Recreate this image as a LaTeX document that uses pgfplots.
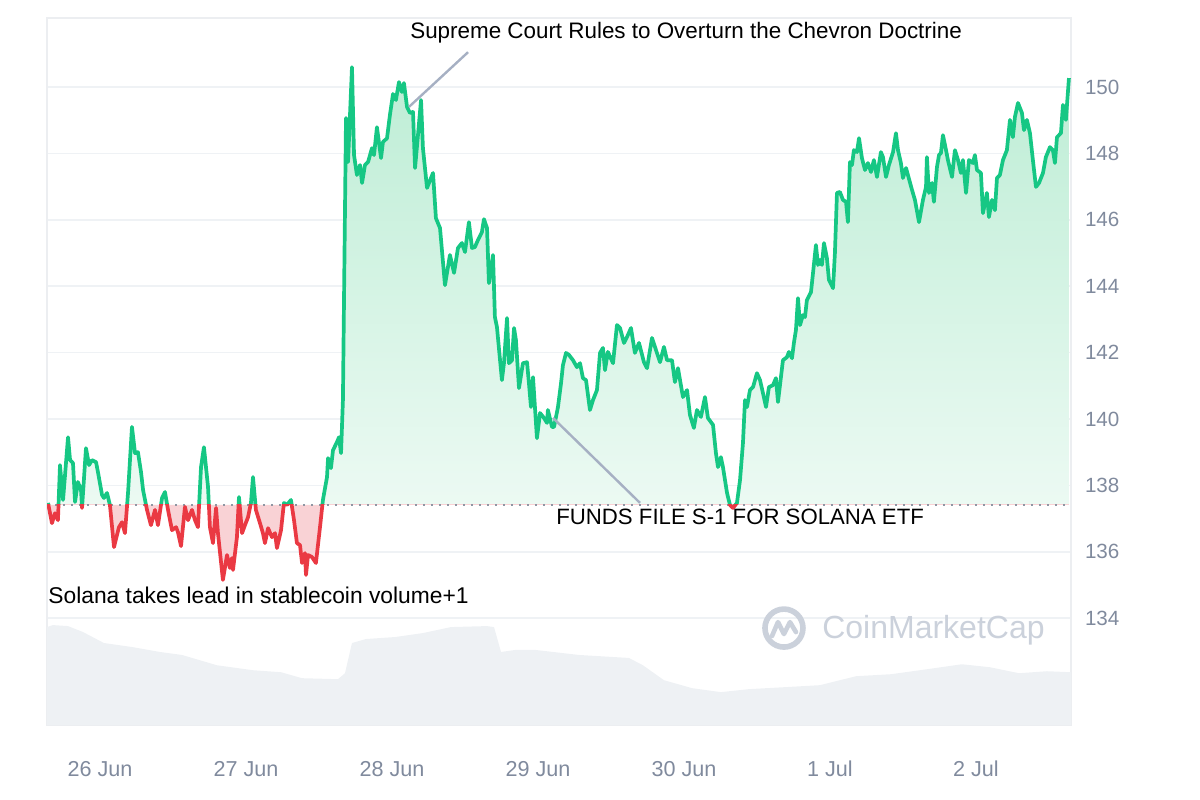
\documentclass[border=0pt]{standalone}
\usepackage{fontspec}
\setmainfont{Liberation Sans}
\usepackage{pgfplots}
\pgfplotsset{compat=1.18}
\usepackage{pgfplotstable}

\definecolor{cmcgreen}{HTML}{16C784}
\definecolor{cmcred}{HTML}{EA3943}
\definecolor{gridc}{HTML}{EFF2F5}
\definecolor{framec}{HTML}{ECEEF1}
\definecolor{tickc}{HTML}{808A9D}
\definecolor{volc}{HTML}{EEF1F4}
\definecolor{annc}{HTML}{A6B0C3}
\definecolor{wmc}{HTML}{CBD1DB}
\definecolor{gtop}{HTML}{BDEDD5}
\definecolor{gbot}{HTML}{F4FCF8}
\definecolor{redfill}{HTML}{F9D2D5}
\definecolor{basec}{HTML}{8F96A3}

\pgfplotstableread{
x y
-0.356 137.47
-0.329 136.86
-0.308 137.16
-0.288 136.95
-0.274 138.61
-0.253 137.56
-0.219 139.45
-0.205 138.76
-0.185 138.67
-0.171 137.50
-0.151 138.10
-0.130 137.86
-0.123 137.32
-0.096 139.12
-0.075 138.61
-0.055 138.76
-0.027 138.70
-0.014 138.40
0.014 137.71
0.027 137.62
0.048 137.77
0.068 137.41
0.096 136.14
0.130 136.74
0.151 136.89
0.171 136.56
0.192 137.77
0.219 139.76
0.240 138.97
0.260 139.00
0.281 138.40
0.295 137.86
0.322 137.26
0.349 136.80
0.377 137.26
0.397 136.80
0.425 137.62
0.445 137.80
0.466 137.26
0.493 136.65
0.521 136.74
0.534 136.59
0.555 136.17
0.582 137.35
0.603 136.95
0.630 137.26
0.651 136.95
0.671 136.74
0.692 138.55
0.712 139.15
0.740 137.95
0.753 136.74
0.774 136.26
0.795 137.32
0.808 136.56
0.842 135.15
0.870 135.90
0.890 135.51
0.904 135.81
0.911 135.45
0.938 136.44
0.952 137.65
0.973 136.56
0.993 136.80
1.014 137.04
1.034 137.47
1.048 138.25
1.068 137.26
1.096 136.86
1.116 136.56
1.130 136.26
1.151 136.71
1.178 136.44
1.199 136.56
1.212 136.11
1.240 136.65
1.260 137.47
1.281 137.41
1.308 137.56
1.329 136.95
1.349 136.26
1.370 136.20
1.384 135.66
1.404 135.96
1.411 135.30
1.425 135.90
1.452 135.84
1.479 135.66
1.507 136.74
1.527 137.56
1.555 138.25
1.562 138.82
1.582 138.52
1.596 139.06
1.623 139.30
1.637 139.45
1.651 138.97
1.664 140.57
1.671 143.43
1.685 149.07
1.699 147.74
1.726 150.60
1.740 147.95
1.760 147.35
1.781 147.65
1.795 147.11
1.815 147.65
1.836 147.74
1.863 148.16
1.877 147.95
1.897 148.79
1.925 147.86
1.938 148.34
1.966 148.46
1.986 149.16
2.007 149.79
2.027 149.61
2.048 150.15
2.068 149.85
2.082 150.12
2.103 149.40
2.123 149.22
2.144 149.25
2.158 147.56
2.178 148.55
2.199 149.61
2.212 148.16
2.240 146.96
2.281 147.41
2.301 146.05
2.329 145.75
2.363 144.03
2.397 144.94
2.425 144.40
2.452 145.15
2.479 145.30
2.500 145.03
2.527 145.93
2.548 145.15
2.568 145.18
2.589 145.39
2.616 145.63
2.630 146.02
2.651 145.75
2.664 144.09
2.692 144.94
2.705 143.07
2.719 142.77
2.753 141.17
2.767 141.68
2.788 143.04
2.801 141.68
2.822 141.77
2.836 142.74
2.849 142.38
2.870 140.93
2.897 141.68
2.925 141.71
2.938 141.08
2.952 140.36
2.966 141.26
2.993 139.42
3.014 140.18
3.041 140.03
3.062 139.88
3.068 140.27
3.096 139.76
3.110 139.76
3.137 140.36
3.158 141.08
3.171 141.62
3.192 141.99
3.212 141.93
3.240 141.77
3.267 141.56
3.288 141.68
3.308 141.23
3.329 141.17
3.356 140.27
3.377 140.57
3.404 140.87
3.425 141.99
3.445 142.14
3.459 141.47
3.479 142.02
3.514 141.68
3.541 142.83
3.562 142.74
3.589 142.29
3.610 142.47
3.637 142.74
3.664 141.99
3.692 142.29
3.726 141.71
3.747 141.53
3.781 142.44
3.808 142.08
3.836 141.71
3.863 142.17
3.884 141.77
3.918 141.77
3.938 141.11
3.959 141.53
3.993 140.66
4.021 140.87
4.041 140.12
4.068 139.73
4.089 140.27
4.116 140.06
4.144 140.66
4.164 140.03
4.199 139.82
4.219 138.97
4.233 138.55
4.253 138.85
4.267 138.55
4.295 137.77
4.315 137.41
4.336 137.32
4.363 137.47
4.384 138.16
4.404 139.27
4.418 140.57
4.432 140.36
4.452 140.87
4.473 140.96
4.500 141.38
4.521 141.17
4.541 140.78
4.562 140.36
4.582 140.96
4.610 141.02
4.630 141.23
4.644 140.51
4.678 141.77
4.705 141.86
4.719 142.02
4.740 141.83
4.753 142.29
4.767 142.68
4.781 143.64
4.795 142.83
4.815 143.13
4.829 143.07
4.842 143.58
4.870 143.82
4.884 144.40
4.904 145.24
4.918 144.64
4.932 144.79
4.945 144.64
4.959 145.30
4.979 144.85
4.993 144.19
5.021 143.94
5.034 145.00
5.048 146.81
5.068 146.84
5.089 146.60
5.110 146.54
5.123 145.93
5.137 147.74
5.151 147.65
5.164 148.10
5.185 148.04
5.199 148.46
5.219 147.86
5.240 147.50
5.260 147.71
5.281 147.44
5.301 147.80
5.322 147.29
5.349 148.04
5.363 147.89
5.384 147.29
5.404 147.65
5.432 148.04
5.452 148.61
5.466 148.10
5.486 147.71
5.500 147.26
5.521 147.56
5.534 147.35
5.562 146.90
5.582 146.60
5.610 145.93
5.637 146.60
5.658 146.99
5.664 147.89
5.678 146.81
5.699 147.11
5.712 146.54
5.733 147.59
5.747 147.95
5.760 148.01
5.774 148.55
5.795 148.10
5.808 147.80
5.836 147.29
5.856 148.10
5.877 147.80
5.897 147.41
5.911 147.80
5.932 146.81
5.952 147.80
5.979 147.71
5.993 147.95
6.007 147.50
6.034 147.41
6.048 146.20
6.075 146.81
6.089 146.08
6.110 146.60
6.130 146.29
6.144 147.26
6.164 147.35
6.185 147.80
6.212 148.10
6.233 149.01
6.253 148.49
6.267 149.10
6.288 149.52
6.315 149.22
6.329 148.70
6.349 149.01
6.370 148.61
6.390 147.80
6.411 146.99
6.432 147.11
6.459 147.41
6.479 147.89
6.507 148.19
6.527 148.10
6.541 147.71
6.555 148.49
6.582 148.61
6.596 149.46
6.616 149.01
6.637 150.27
}\price

\pgfplotstableread{
x y
-0.363 133.73
-0.322 133.79
-0.219 133.76
-0.116 133.58
0.027 133.25
0.219 133.13
0.411 132.98
0.562 132.89
0.801 132.58
1.048 132.43
1.240 132.37
1.384 132.19
1.630 132.16
1.678 132.34
1.726 133.25
1.822 133.37
2.021 133.43
2.212 133.55
2.404 133.73
2.651 133.76
2.699 133.73
2.747 132.98
2.842 133.04
2.986 133.04
3.281 132.89
3.623 132.80
3.719 132.58
3.863 132.13
4.055 131.89
4.253 131.77
4.445 131.86
4.692 131.92
4.932 131.98
5.178 132.25
5.418 132.31
5.664 132.46
5.904 132.61
6.096 132.52
6.295 132.34
6.486 132.40
6.651 132.37
}\volume

\begin{document}
\begin{tikzpicture}
\begin{axis}[
  at={(23.5bp,37.5bp)}, anchor=south west,
  scale only axis, width=512bp, height=353.5bp,
  xmin=-0.363, xmax=6.651, ymin=130.78, ymax=152.08,
  axis line style={draw=framec, line width=0.6bp},
  ytick={134,136,...,150},
  yticklabel pos=right,
  ymajorgrids,
  grid style={gridc, line width=0.8bp},
  xtick={0,1,2,3,4,5,6},
  xticklabels={26 Jun,27 Jun,28 Jun,29 Jun,30 Jun,1 Jul,2 Jul},
  major tick length=0pt,
  tick label style={font=\fontsize{10.3bp}{12bp}\selectfont, text=tickc},
  xticklabel style={font=\fontsize{10.8bp}{12bp}\selectfont, anchor=north, yshift=-14.5bp},
  yticklabel style={anchor=west, xshift=3.5bp},
  /pgf/number format/assume math mode=true,
  clip=true,
]
% volume
\addplot[draw=none, fill=volc] table[x=x,y=y] {\volume} \closedcycle;

% watermark
\node[circle, draw=wmc, line width=2.8bp, minimum size=19bp, inner sep=0pt] (logo) at (axis cs:4.685,133.70) {};
\draw[wmc, line width=2.3bp, line join=round, line cap=round] (logo.center) ++(-6bp,-4bp) -- ++(3bp,7bp) -- ++(3bp,-6bp) -- ++(3bp,6bp) -- ++(3bp,-5bp);
\node[anchor=west, text=wmc, font=\fontsize{16bp}{18bp}\selectfont, inner sep=0pt] at (axis cs:4.945,133.64) {CoinMarketCap};

% areas
\begin{scope}
\clip (axis cs:-1,137.41) rectangle (axis cs:8,153);
\addplot[draw=none, top color=gtop, bottom color=gbot] table[x=x,y=y] {\price} -- (axis cs:6.637,137.41) -- (axis cs:-0.356,137.41) -- cycle;
\end{scope}
\begin{scope}
\clip (axis cs:-1,137.41) rectangle (axis cs:8,120);
\addplot[draw=none, fill=redfill] table[x=x,y=y] {\price} -- (axis cs:6.637,137.41) -- (axis cs:-0.356,137.41) -- cycle;
\end{scope}

% baseline
\addplot[basec, line width=0.9bp, dash pattern=on 0.9bp off 3.1bp] coordinates {(-0.363,137.41) (6.651,137.41)};

% price line
\begin{scope}
\clip (axis cs:-1,137.41) rectangle (axis cs:8,153);
\addplot[cmcgreen, line width=1.85bp, line join=round] table[x=x,y=y] {\price};
\end{scope}
\begin{scope}
\clip (axis cs:-1,137.41) rectangle (axis cs:8,120);
\addplot[cmcred, line width=1.85bp, line join=round] table[x=x,y=y] {\price};
\end{scope}

% annotations
\draw[annc, line width=1.2bp] (axis cs:2.116,149.40) -- (axis cs:2.521,151.05);
\node[anchor=west, inner sep=0pt, font=\fontsize{11.2bp}{13bp}\selectfont] at (axis cs:2.123,151.63) {Supreme Court Rules to Overturn the Chevron Doctrine};
\draw[annc, line width=1.2bp] (axis cs:3.103,140.03) -- (axis cs:3.699,137.47);
\node[anchor=west, inner sep=0pt, font=\fontsize{11.1bp}{13bp}\selectfont] at (axis cs:3.123,137.04) {FUNDS FILE S-1 FOR SOLANA ETF};
\node[anchor=west, inner sep=0pt, font=\fontsize{11.4bp}{13bp}\selectfont] at (axis cs:-0.356,134.69) {Solana takes lead in stablecoin volume+1};
\end{axis}
\pgfresetboundingbox
\path[use as bounding box] (0,0) rectangle (600bp,400bp);
\end{tikzpicture}
\end{document}
